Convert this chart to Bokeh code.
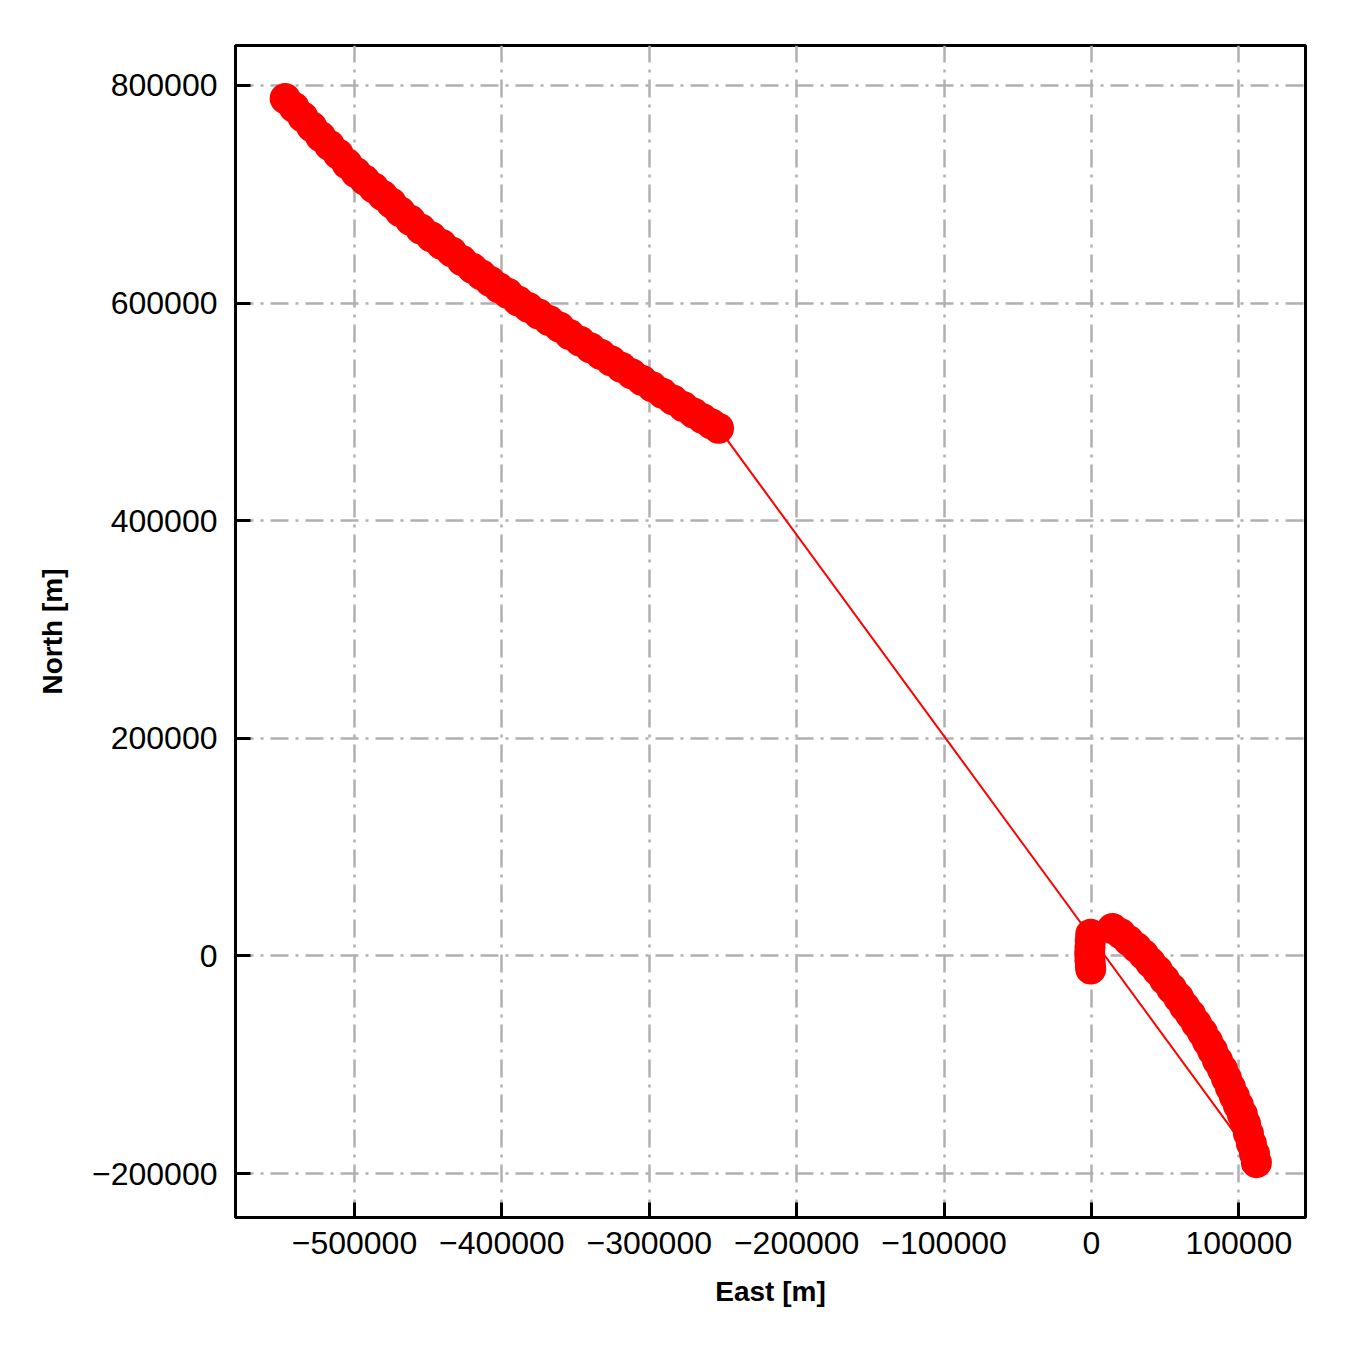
from bokeh.plotting import figure
from bokeh.models import Range1d, FixedTicker
from bokeh.embed import file_html
from bokeh.resources import INLINE

# --- Track 1: north-west segment (east, north in metres), start -> end
seg1_east = [-547000, -541000, -535000, -529000, -523000, -517000, -511000, -505000,
             -499000, -493000, -487000, -481000, -475000, -469000, -462000, -455000,
             -448000, -441000, -434000, -427000, -420000, -414000, -408000, -402000,
             -396000, -389000, -382000, -375000, -368000, -361000, -354000, -347000,
             -340000, -333000, -326000, -319000, -312000, -305000, -298000, -291000,
             -284000, -277000, -270000, -264000, -258000, -253000]
seg1_north = [788000, 780000, 771000, 762000, 753000, 745000, 737000, 728000,
              720000, 713000, 706000, 699000, 692000, 684000, 676000, 668000,
              661000, 654000, 647000, 639000, 632000, 626000, 620000, 614000,
              609000, 602000, 596000, 590000, 584000, 578000, 571000, 565000,
              559000, 553000, 547000, 541000, 535000, 529000, 523000, 517000,
              511000, 505000, 499000, 494000, 489000, 485000]

# --- Track 2: arc south-east of origin, listed from its south end up to its north end
arc_east = [111900, 110600, 108500, 106500, 104500, 102400, 99700, 97000, 94300,
            91600, 88900, 85500, 82100, 78700, 75300, 71200, 67200, 63100, 59000,
            54300, 49500, 44800, 40000, 35300, 30500, 25100, 19700, 14250]
arc_north = [-190000, -181700, -172500, -163300, -154100, -145800, -137500, -129200,
             -120900, -112700, -104400, -96100, -86900, -78700, -70400, -62100,
             -53800, -46500, -38200, -30000, -21700, -13400, -6100, 1300, 7700,
             14200, 20600, 25200]

# --- Track 3: small cluster at the origin
cluster_east = [-500, -800, -1000, -1200, -1000, -700, -500]
cluster_north = [20000, 14000, 8000, 2000, -4000, -9000, -12000]

# --- Axis ticks
x_ticks = [-500000, -400000, -300000, -200000, -100000, 0, 100000]
x_tick_labels = ["\u2212500000", "\u2212400000", "\u2212300000", "\u2212200000",
                 "\u2212100000", "0", "100000"]
y_ticks = [-200000, 0, 200000, 400000, 600000, 800000]
y_tick_labels = ["\u2212200000", "0", "200000", "400000", "600000", "800000"]

east = seg1_east + arc_east + cluster_east
north = seg1_north + arc_north + cluster_north

p = figure(width=1340, height=1340, output_backend="svg", toolbar_location=None,
           x_range=Range1d(-580700, 145200), y_range=Range1d(-240400, 836700),
           min_border_left=235, min_border_right=35, min_border_top=45,
           min_border_bottom=123)
p.background_fill_color = "white"
p.border_fill_color = "white"
p.outline_line_color = "black"
p.outline_line_width = 3

p.line(east, north, line_color="#ff0000", line_width=2)
p.scatter(east, north, marker="circle", size=31, fill_color="#ff0000",
          line_color="#ff0000", line_width=0)

for ax, ticks, labels in ((p.xaxis[0], x_ticks, x_tick_labels),
                          (p.yaxis[0], y_ticks, y_tick_labels)):
    ax.ticker = FixedTicker(ticks=ticks)
    ax.major_label_overrides = dict(zip(ticks, labels))
    ax.major_tick_in = 15
    ax.major_tick_out = 0
    ax.minor_tick_in = 0
    ax.minor_tick_out = 0
    ax.major_tick_line_width = 3
    ax.axis_line_width = 3
    ax.major_label_text_font = "Liberation Sans"
    ax.major_label_text_font_size = "32px"
    ax.major_label_text_color = "black"
    ax.axis_label_text_font = "Liberation Sans"
    ax.axis_label_text_font_size = "28px"
    ax.axis_label_text_font_style = "bold"
    ax.axis_label_text_color = "black"

p.xaxis.axis_label = "East [m]"
p.yaxis.axis_label = "North [m]"
p.xaxis.major_label_standoff = 14
p.yaxis.major_label_standoff = 18
p.xaxis.axis_label_standoff = 19
p.yaxis.axis_label_standoff = 21

for g in (p.xgrid[0], p.ygrid[0]):
    g.grid_line_color = "#b0b0b0"
    g.grid_line_width = 2.5
    g.grid_line_dash = "18 7 3 7"

open("out.html", "w").write(file_html(p, INLINE))
